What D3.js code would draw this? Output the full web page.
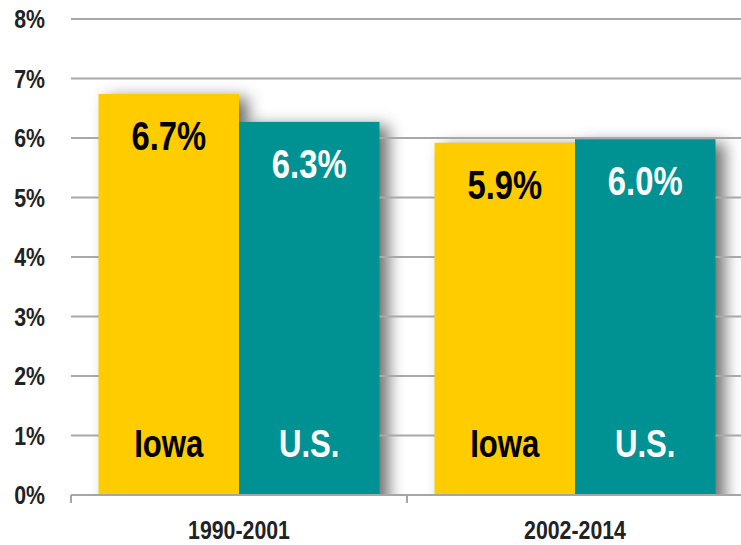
<!DOCTYPE html>
<html>
<head>
<meta charset="utf-8">
<script src="https://cdn.jsdelivr.net/npm/d3@7"></script>
<style>
  body { margin: 0; background: #fff; }
  text { font-family: "Liberation Sans Narrow", "Arial Narrow", "Liberation Sans", Arial, sans-serif; font-weight: bold; }
</style>
</head>
<body>
<div id="chart"></div>
<script>
var periods = ['1990-2001', '2002-2014']
var regions = ['Iowa', 'U.S.']
var iowaValues = [6.74, 5.92]
var usValues = [6.27, 5.98]
var yTicks = [0, 1, 2, 3, 4, 5, 6, 7, 8]

var width = 741, height = 545
var margin = { left: 71, right: -2, top: 19, bottom: 50 }
var narrow = 0.82   // squeeze Liberation Sans to look like Arial Narrow

var colors = { 'Iowa': '#ffcc00', 'U.S.': '#009292' }
var textColors = { 'Iowa': '#000', 'U.S.': '#fff' }

var data = []
periods.forEach(function(p, i){
    data.push({ period: p, region: 'Iowa', value: iowaValues[i] })
    data.push({ period: p, region: 'U.S.', value: usValues[i] })
})

function place(x, y){
    return 'translate(' + x + ',' + y + ') scale(' + narrow + ',1)'
}

var svg = d3.select('#chart').append('svg')
    .attr('width', width)
    .attr('height', height)

// blurred shadow drawn under the gridlines
var defs = svg.append('defs')
defs.append('filter')
    .attr('id', 'blur')
    .attr('x', '-30%').attr('y', '-30%')
    .attr('width', '160%').attr('height', '160%')
    .append('feGaussianBlur')
        .attr('stdDeviation', 8)

var x0 = d3.scaleBand()
    .domain(periods)
    .range([margin.left, width - margin.right])
    .paddingInner(0)
    .paddingOuter(0)

var x1 = d3.scaleBand()
    .domain(regions)
    .range([0, x0.bandwidth()])
    .paddingOuter(0.196)
    .paddingInner(0)

var y = d3.scaleLinear()
    .domain([0, 8])
    .range([height - margin.bottom, margin.top])

var clip = defs.append('clipPath').attr('id', 'plotclip')
clip.append('rect')
    .attr('x', margin.left).attr('y', 0)
    .attr('width', width).attr('height', y(0))

svg.append('g')
    .attr('clip-path', 'url(#plotclip)')
    .selectAll('rect')
    .data(data)
    .enter()
    .append('rect')
        .attr('x', function(d){ return x0(d.period) + x1(d.region) + 9 })
        .attr('y', function(d){ return y(d.value) + 4 })
        .attr('width', x1.bandwidth())
        .attr('height', function(d){ return y(0) - y(d.value) + 20 })
        .attr('fill', '#555')
        .attr('opacity', 0.85)
        .attr('filter', 'url(#blur)')

// gridlines
svg.append('g')
    .selectAll('line')
    .data(yTicks.filter(function(d){ return d > 0 }))
    .enter()
    .append('line')
        .attr('x1', margin.left)
        .attr('x2', width)
        .attr('y1', function(d){ return y(d) })
        .attr('y2', function(d){ return y(d) })
        .attr('stroke', '#a8a8a8')
        .attr('stroke-width', 2)

// y tick labels
svg.append('g')
    .selectAll('text')
    .data(yTicks)
    .enter()
    .append('text')
        .attr('transform', function(d){ return place(45, y(d)) })
        .attr('dy', '0.36em')
        .attr('text-anchor', 'end')
        .attr('font-size', 26)
        .attr('fill', '#222')
        .text(function(d){ return d + '%' })

// bars
var groups = svg.append('g')
    .selectAll('g')
    .data(periods)
    .enter()
    .append('g')
        .attr('transform', function(d){ return 'translate(' + x0(d) + ',0)' })

groups.selectAll('rect')
    .data(function(p){ return data.filter(function(d){ return d.period === p }) })
    .enter()
    .append('rect')
        .attr('x', function(d){ return x1(d.region) })
        .attr('y', function(d){ return y(d.value) })
        .attr('width', x1.bandwidth())
        .attr('height', function(d){ return y(0) - y(d.value) })
        .attr('fill', function(d){ return colors[d.region] })

// value labels
groups.selectAll('text.value')
    .data(function(p){ return data.filter(function(d){ return d.period === p }) })
    .enter()
    .append('text')
        .attr('class', 'value')
        .attr('transform', function(d){ return place(x1(d.region) + x1.bandwidth()/2, y(d.value) + 56) })
        .attr('text-anchor', 'middle')
        .attr('font-size', 40)
        .attr('fill', function(d){ return textColors[d.region] })
        .text(function(d){ return d.value.toFixed(1) + '%' })

// region labels
groups.selectAll('text.region')
    .data(function(p){ return data.filter(function(d){ return d.period === p }) })
    .enter()
    .append('text')
        .attr('class', 'region')
        .attr('transform', function(d){ return place(x1(d.region) + x1.bandwidth()/2, y(0) - 38) })
        .attr('text-anchor', 'middle')
        .attr('font-size', 38)
        .attr('fill', function(d){ return textColors[d.region] })
        .text(function(d){ return d.region })

// x axis
var axis = svg.append('g')
axis.append('line')
    .attr('x1', margin.left)
    .attr('x2', width)
    .attr('y1', y(0))
    .attr('y2', y(0))
    .attr('stroke', '#a6a6a6')
    .attr('stroke-width', 2)
axis.selectAll('line.tick')
    .data(periods.concat(['end']))
    .enter()
    .append('line')
        .attr('class', 'tick')
        .attr('x1', function(d, i){ return margin.left + i * x0.bandwidth() })
        .attr('x2', function(d, i){ return margin.left + i * x0.bandwidth() })
        .attr('y1', y(0))
        .attr('y2', y(0) + 8)
        .attr('stroke', '#a6a6a6')
        .attr('stroke-width', 2)
axis.selectAll('text')
    .data(periods)
    .enter()
    .append('text')
        .attr('transform', function(d){ return place(x0(d) + x0.bandwidth()/2, 539) })
        .attr('text-anchor', 'middle')
        .attr('font-size', 26)
        .attr('fill', '#222')
        .text(function(d){ return d })
</script>
</body>
</html>
